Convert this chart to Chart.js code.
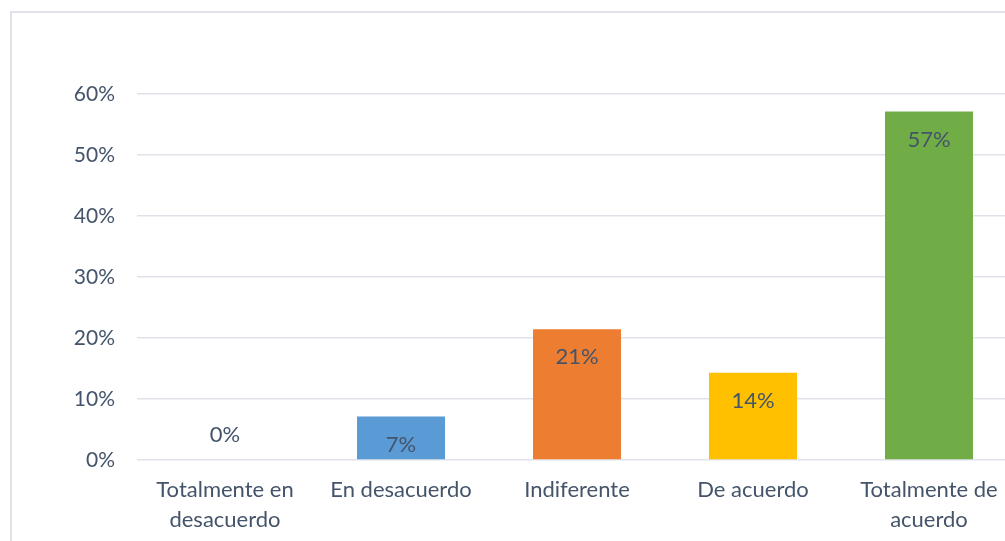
<!DOCTYPE html>
<html>
<head>
<meta charset="utf-8">
<script src="https://cdn.jsdelivr.net/npm/chart.js@4/dist/chart.umd.min.js"></script>
<style>
  html, body { margin: 0; padding: 0; background: #fff; overflow: hidden; }
  #frame { position: absolute; left: 10px; top: 11px; width: 1100px; height: 600px; border: 2px solid #dfe3e9; }
  #wrap { position: absolute; left: 0; top: 0; width: 1040px; height: 541px; }
</style>
</head>
<body>
<div id="frame"></div>
<div id="wrap"><canvas id="myChart" width="1040" height="541"></canvas></div>
<script>
const categories = [
    ['Totalmente en', 'desacuerdo'],
    'En desacuerdo',
    'Indiferente',
    'De acuerdo',
    ['Totalmente de', 'acuerdo']
];
const percentValues = [0, 7.14, 21.43, 14.29, 57.14];
const barColors = ['#5b9bd5', '#5b9bd5', '#ed7d31', '#ffc000', '#70ad47'];
const yTicks = [0, 10, 20, 30, 40, 50, 60];

const textColor = '#44546a';
const gridColor = '#dfe3e9';
const fontFamily = 'Lato, "Open Sans", sans-serif';

// draws the % label inside the top of each bar (above the base when zero)
const valueLabels = {
    id: 'valueLabels',
    afterDatasetsDraw(chart) {
        const ctx = chart.ctx;
        const meta = chart.getDatasetMeta(0);
        ctx.save();
        ctx.font = '22px ' + fontFamily;
        ctx.fillStyle = textColor;
        ctx.textAlign = 'center';
        ctx.textBaseline = 'middle';
        meta.data.forEach((bar, i) => {
            const v = percentValues[i];
            const y = v > 0 ? bar.y + 28 : bar.base - 25;
            ctx.fillText(Math.round(v) + '%', bar.x, y);
        });
        ctx.restore();
    }
};

const ctx = document.getElementById('myChart').getContext('2d');

new Chart(ctx, {
    type: 'bar',
    data: {
        labels: categories,
        datasets: [{
            data: percentValues,
            backgroundColor: barColors,
            borderWidth: 0,
            categoryPercentage: 1,
            barPercentage: 0.5,
        }],
    },
    options: {
        responsive: false,
        animation: false,
        layout: { padding: { top: 94, right: 23, bottom: 0, left: 0 } },
        plugins: {
            legend: { display: false },
            tooltip: { enabled: false },
        },
        scales: {
            x: {
                grid: { display: false, drawTicks: false },
                border: { display: false },
                ticks: {
                    color: textColor,
                    padding: 15,
                    maxRotation: 0,
                    autoSkip: false,
                    font: { family: fontFamily, size: 22, lineHeight: 1.36 },
                },
                afterFit: (scale) => { scale.height = 81; },
            },
            y: {
                min: 0,
                max: 60,
                afterBuildTicks: (scale) => { scale.ticks = yTicks.map(v => ({ value: v })); },
                grid: { color: gridColor, lineWidth: 1.5, drawTicks: false },
                border: { display: false },
                ticks: {
                    color: textColor,
                    padding: 22,
                    font: { family: fontFamily, size: 21 },
                    callback: (v) => v + '%',
                },
                afterFit: (scale) => { scale.width = 137; },
            },
        },
    },
    plugins: [valueLabels],
});
</script>
</body>
</html>
